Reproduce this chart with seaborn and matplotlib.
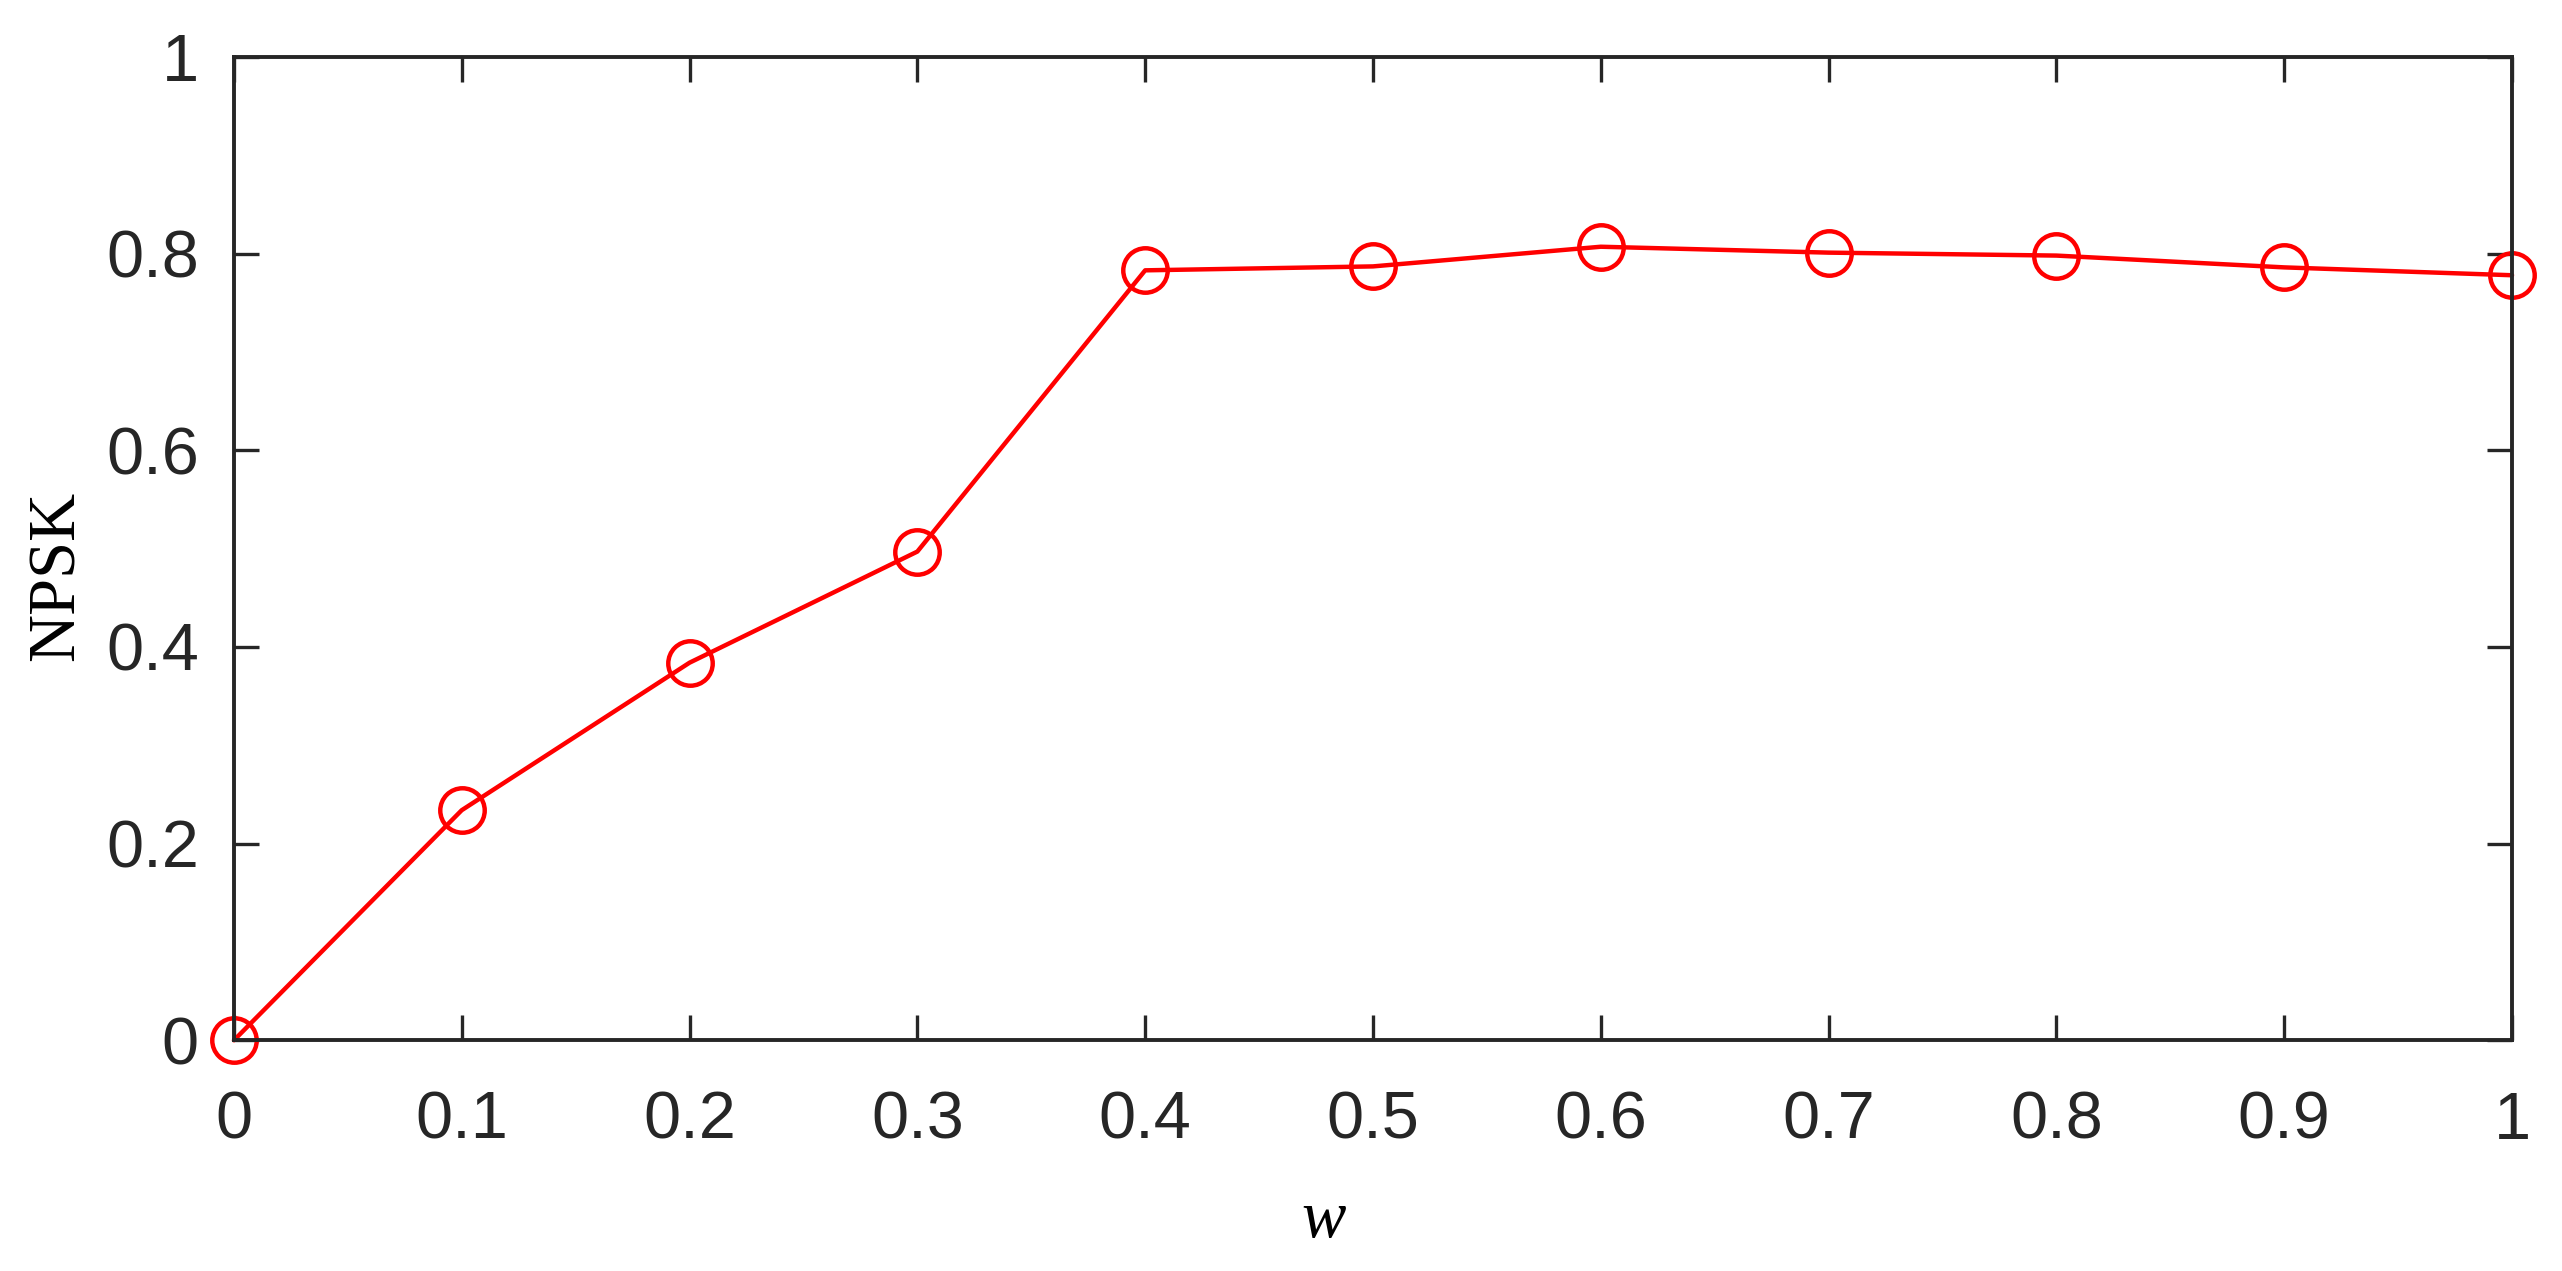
import matplotlib
matplotlib.use("Agg")
import matplotlib.pyplot as plt
import seaborn as sns
import pandas as pd

w_values = [0.0, 0.1, 0.2, 0.3, 0.4, 0.5, 0.6, 0.7, 0.8, 0.9, 1.0]
npsk_values = [0.0, 0.234, 0.384, 0.497, 0.783, 0.787, 0.807, 0.801, 0.798, 0.786, 0.778]
x_ticks = [0, 0.1, 0.2, 0.3, 0.4, 0.5, 0.6, 0.7, 0.8, 0.9, 1]
x_tick_labels = ["0", "0.1", "0.2", "0.3", "0.4", "0.5", "0.6", "0.7", "0.8", "0.9", "1"]
y_ticks = [0, 0.2, 0.4, 0.6, 0.8, 1]
y_tick_labels = ["0", "0.2", "0.4", "0.6", "0.8", "1"]

df = pd.DataFrame({"w": w_values, "NPSK": npsk_values})

sns.set_theme(style="ticks")
plt.rcParams["font.family"] = ["Liberation Sans", "DejaVu Sans"]

dark = "#262626"
fig = plt.figure(figsize=(12.81, 6.355), dpi=200)
ax = fig.add_axes([0.0913, 0.1815, 0.8892, 0.7737])

sns.lineplot(data=df, x="w", y="NPSK", ax=ax, color="#FF0000", linewidth=1.6,
             marker="o", markersize=16, markerfacecolor="none",
             markeredgecolor="#FF0000", markeredgewidth=1.6, clip_on=False)

ax.set_xlim(0, 1)
ax.set_ylim(0, 1)
ax.set_xticks(x_ticks)
ax.set_xticklabels(x_tick_labels)
ax.set_yticks(y_ticks)
ax.set_yticklabels(y_tick_labels)

for s in ax.spines.values():
    s.set_visible(True)
    s.set_linewidth(1.4)
    s.set_color(dark)

ax.tick_params(axis="both", which="major", direction="in", length=9, width=1.2,
               colors=dark, labelsize=24, top=True, right=True)
ax.tick_params(axis="x", pad=18.2)
ax.tick_params(axis="y", pad=12.6)

ax.set_xlabel("w", fontsize=24, family=["Liberation Serif"], style="italic", color="black")
ax.set_ylabel("NPSK", fontsize=24, family=["Liberation Serif"], color="black")
ax.xaxis.set_label_coords(0.4785, -0.152)
ax.yaxis.set_label_coords(-0.064, 0.4725)

fig.savefig("out.png", dpi=200)
